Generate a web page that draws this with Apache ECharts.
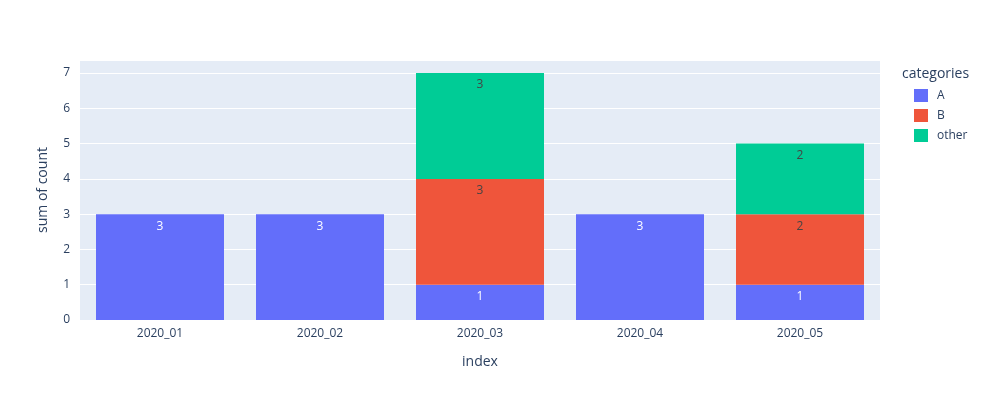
<!DOCTYPE html>
<html><head><meta charset="utf-8">
<script src="https://cdn.jsdelivr.net/npm/echarts@6/dist/echarts.min.js"></script>
<style>html,body{margin:0;padding:0;background:#fff}#c{width:983px;height:400px}</style>
</head><body><div id="c"></div>
<script>
const categories = ['2020_01','2020_02','2020_03','2020_04','2020_05'];
const seriesA = [3,3,1,3,1];
const seriesB = [null,null,3,null,2];
const seriesOther = [null,null,3,null,2];
const yTicks = [0,1,2,3,4,5,6,7];

const font = '"Open Sans", sans-serif';
const chart = echarts.init(document.getElementById('c'), null, {renderer:'canvas'});
function mk(name, data, color, labelColor){
  return {name, type:'bar', stack:'s', data, barCategoryGap:'20%',
    itemStyle:{color},
    label:{show:true, position:'insideTop', distance:6, color:labelColor, fontFamily:font, fontSize:12,
      formatter:p=>p.value==null?'':String(p.value)},
    emphasis:{disabled:true}};
}
chart.setOption({
  animation:false,
  backgroundColor:'#fff',
  grid:{left:80, right:103, top:60, bottom:80, show:true, backgroundColor:'#e5ecf6', borderWidth:0},
  title:{text:'categories', left:897, top:62, textStyle:{fontFamily:font, fontSize:14, fontWeight:'normal', color:'#2a3f5f'}},
  legend:{orient:'vertical', left:909, top:84, itemWidth:14, itemHeight:13, itemGap:7,
    icon:'rect', textStyle:{fontFamily:font, fontSize:12, color:'#2a3f5f', padding:[0,0,0,4]},
    data:['A','B','other']},
  xAxis:{type:'category', data:categories, name:'index', nameLocation:'middle', nameGap:35,
    nameTextStyle:{fontFamily:font, fontSize:14, color:'#2a3f5f'},
    axisLine:{show:false}, axisTick:{show:false},
    axisLabel:{fontFamily:font, fontSize:12, color:'#2a3f5f', margin:8}},
  yAxis:{type:'value', min:0, max:7.37, interval:1, name:'sum of count', nameLocation:'middle', nameGap:30,
    nameTextStyle:{fontFamily:font, fontSize:14, color:'#2a3f5f'},
    axisLine:{show:false}, axisTick:{show:false},
    axisLabel:{fontFamily:font, fontSize:12, color:'#2a3f5f', margin:10, showMaxLabel:false,
      formatter:v=>yTicks.includes(v)?String(v):''},
    splitLine:{lineStyle:{color:'#fff', width:1}}},
  series:[
    mk('A', seriesA, '#636efa', '#fff'),
    mk('B', seriesB, '#EF553B', '#444'),
    mk('other', seriesOther, '#00cc96', '#444')
  ]
});
</script></body></html>
